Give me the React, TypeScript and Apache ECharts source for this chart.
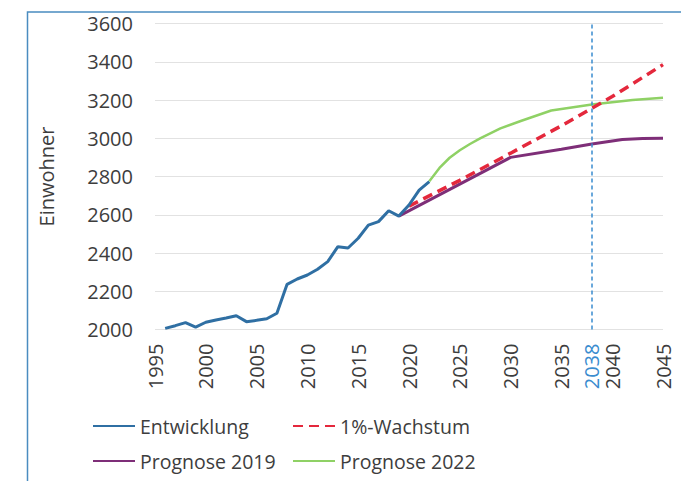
import React, { useEffect, useRef } from "react";
import * as echarts from "echarts";

const years: string[] = Array.from({ length: 51 }, (_, i) => String(1995 + i));

const entwicklung: [string, number][] = [
  ["1996", 2006], ["1997", 2020], ["1998", 2036], ["1999", 2012], ["2000", 2038],
  ["2001", 2050], ["2002", 2060], ["2003", 2072], ["2004", 2041], ["2005", 2048],
  ["2006", 2056], ["2007", 2085], ["2008", 2236], ["2009", 2264], ["2010", 2285],
  ["2011", 2315], ["2012", 2355], ["2013", 2433], ["2014", 2426], ["2015", 2477],
  ["2016", 2546], ["2017", 2564], ["2018", 2621], ["2019", 2593], ["2020", 2651],
  ["2021", 2729], ["2022", 2773],
];

const wachstum: [string, number][] = [
  ["2020", 2645], ["2025", 2780], ["2030", 2922], ["2035", 3065],
  ["2038", 3157], ["2040", 3218], ["2045", 3385],
];

const prognose2019: [string, number][] = [
  ["2019", 2593], ["2030", 2900], ["2035", 2943], ["2038", 2970],
  ["2041", 2993], ["2043", 2999], ["2045", 3000],
];

const prognose2022: [string, number][] = [
  ["2022", 2775], ["2023", 2845], ["2024", 2898], ["2025", 2937], ["2026", 2970],
  ["2027", 2999], ["2029", 3052], ["2031", 3090], ["2034", 3145], ["2038", 3177],
  ["2042", 3200], ["2045", 3212],
];

const markYear = "2038";

const FONT = "'Open Sans', 'Noto Sans', sans-serif";
const TXT = "#3d3d3d";

export default function App() {
  const ref = useRef<HTMLDivElement>(null);
  useEffect(() => {
    if (!ref.current) return;
    const chart = echarts.init(ref.current, null, { renderer: "svg" });
    const legendBase = {
      orient: "horizontal",
      padding: 0,
      itemWidth: 42,
      itemHeight: 14,
      itemStyle: { opacity: 0 },
      textStyle: { fontFamily: FONT, fontSize: 19.5, color: TXT },
    };
    chart.setOption({
      animation: false,
      backgroundColor: "#ffffff",
      textStyle: { fontFamily: FONT },
      grid: { left: 155, right: 18, top: 23.5, bottom: 151.5, containLabel: false },
      legend: [
        { ...legendBase, data: ["Entwicklung"], left: 92, top: 416 },
        { ...legendBase, data: ["1%-Wachstum"], left: 292, top: 416 },
        { ...legendBase, data: ["Prognose 2019"], left: 92, top: 451 },
        { ...legendBase, data: ["Prognose 2022"], left: 292, top: 451 },
      ],
      graphic: [
        {
          type: "rect",
          shape: { x: 27.5, y: 12, width: 720, height: 520 },
          style: { fill: "none", stroke: "#4a8cc0", lineWidth: 1.5 },
          silent: true,
        },
      ],
      xAxis: {
        type: "category",
        data: years,
        boundaryGap: false,
        axisLine: { show: false },
        axisTick: { show: false },
        splitLine: { show: false },
        axisLabel: {
          rotate: 90,
          margin: 14,
          fontSize: 20,
          fontFamily: FONT,
          color: TXT,
          interval: (_i: number, v: string) => Number(v) % 5 === 0 || v === markYear,
          formatter: (v: string) => (v === markYear ? `{hl|${v}}` : v),
          rich: { hl: { color: "#3a8ccf", fontSize: 20, fontFamily: FONT } },
        },
      },
      yAxis: {
        type: "value",
        min: 2000,
        max: 3600,
        interval: 200,
        name: "Einwohner",
        nameLocation: "middle",
        nameRotate: 90,
        nameGap: 99,
        nameTextStyle: { fontSize: 20, fontFamily: FONT, color: TXT },
        axisLine: { show: false },
        axisTick: { show: false },
        axisLabel: {
          margin: 22,
          fontSize: 20,
          fontFamily: FONT,
          color: TXT,
          formatter: (v: number) => String(v),
        },
        splitLine: { lineStyle: { color: "#e2e2e2", width: 1 } },
      },
      series: [
        {
          name: "Entwicklung",
          type: "line",
          data: entwicklung,
          symbol: "none",
          color: "#2f6fa3",
          lineStyle: { color: "#2f6fa3", width: 3 },
          z: 4,
          markLine: {
            silent: true,
            symbol: "none",
            label: { show: false },
            lineStyle: { color: "#3a8ccf", width: 1.5, type: [4, 3] },
            data: [{ xAxis: markYear }],
          },
        },
        {
          name: "1%-Wachstum",
          type: "line",
          data: wachstum,
          symbol: "none",
          color: "#e4283c",
          lineStyle: { color: "#e4283c", width: 3.5, type: [10, 6] },
          z: 3,
        },
        {
          name: "Prognose 2019",
          type: "line",
          data: prognose2019,
          symbol: "none",
          color: "#7e2e78",
          lineStyle: { color: "#7e2e78", width: 3 },
          z: 2,
        },
        {
          name: "Prognose 2022",
          type: "line",
          data: prognose2022,
          symbol: "none",
          color: "#8fd165",
          lineStyle: { color: "#8fd165", width: 2.5 },
          z: 2,
        },
      ],
    });
    return () => chart.dispose();
  }, []);
  return (
    <div
      ref={ref}
      style={{ position: "fixed", left: 0, top: 0, width: 681, height: 481 }}
    />
  );
}
